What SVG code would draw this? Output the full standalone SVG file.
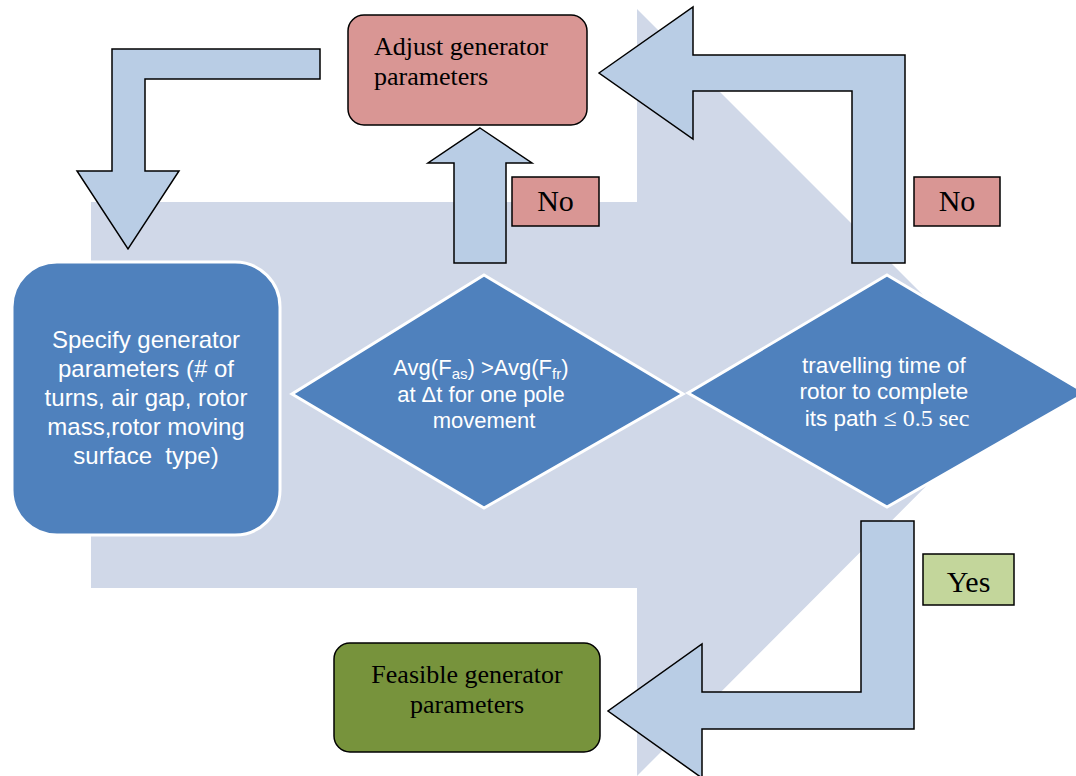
<svg xmlns="http://www.w3.org/2000/svg" width="1076" height="776" viewBox="0 0 1076 776">
<style>
.arrow{fill:#b9cde5;stroke:#000;stroke-width:1.5;stroke-linejoin:miter}
.lbl{stroke:#000;stroke-width:1.5}
.serif{font-family:"Liberation Serif","Times New Roman",serif;fill:#000}
.sans{font-family:"Liberation Sans",Arial,sans-serif;fill:#fff}
.blue{fill:#4f81bd;stroke:#fff;stroke-width:3}
</style>
<rect width="1076" height="776" fill="#fff"/>
<g id="background">
<polygon points="91,202 637,202 637,9 1020,392 637,776 637,588 91,588" fill="#d0d8e8"/>
</g>
<g id="connectors">
<polygon class="arrow" points="320,49 320,79 145,79 145,171 179,171 128,249 77,171 112,171 112,49"/>
<polygon class="arrow" points="480,128 532,163 506,163 506,263 454,263 454,163 428,163"/>
<polygon class="arrow" points="599,73 693,7 693,55 905,55 905,263 852,263 852,91 693,91 693,139"/>
<polygon class="arrow" points="861,521 914,521 914,729 702,729 702,778 608,711 702,644 702,692 861,692"/>
</g>
<g id="specify">
<rect class="blue" x="12" y="262" width="268" height="273" rx="45"/>
<text class="sans" font-size="24" text-anchor="middle" xml:space="preserve"><tspan x="146" y="348">Specify generator</tspan><tspan x="146" y="377">parameters (# of</tspan><tspan x="146" y="406">turns, air gap, rotor</tspan><tspan x="146" y="435">mass,rotor moving</tspan><tspan x="146" y="464">surface  type)</tspan></text>
</g>
<g id="decision1">
<polygon class="blue" points="484,275 683,394 484,508 292,394"/>
<text class="sans" font-size="22" text-anchor="middle">
<tspan x="484" y="375">Avg(F<tspan font-size="15" dy="4">as</tspan><tspan dy="-4">) &gt;Avg(F</tspan><tspan font-size="15" dy="4">fr</tspan><tspan dy="-4">)</tspan></tspan>
<tspan x="484" y="402">at Δt for one pole</tspan>
<tspan x="484" y="428">movement</tspan>
</text>
</g>
<g id="decision2">
<polygon class="blue" points="887,275 1086,393 887,507 688,393"/>
<text class="sans" font-size="22.5" text-anchor="middle">
<tspan x="887" y="373">travelling time of</tspan>
<tspan x="887" y="399">rotor to complete</tspan>
<tspan x="887" y="426">its path <tspan font-family="Liberation Serif, serif" font-size="24">≤ 0.5 sec</tspan></tspan>
</text>
</g>
<g id="adjust">
<rect x="348" y="15" width="239" height="110" rx="16" fill="#d99694" stroke="#000" stroke-width="1.5"/>
<text class="serif" font-size="26"><tspan x="374" y="55">Adjust generator</tspan><tspan x="374" y="85">parameters</tspan></text>
</g>
<g id="feasible">
<rect x="334" y="643" width="266" height="109" rx="16" fill="#77933c" stroke="#000" stroke-width="1.5"/>
<text class="serif" font-size="26" text-anchor="middle"><tspan x="467" y="683">Feasible generator</tspan><tspan x="467" y="713">parameters</tspan></text>
</g>
<g id="no1">
<rect class="lbl" x="512" y="177" width="87" height="49" fill="#d99694"/>
<text class="serif" font-size="30" x="555.5" y="211" text-anchor="middle">No</text>
</g>
<g id="no2">
<rect class="lbl" x="914" y="177" width="86" height="49" fill="#d99694"/>
<text class="serif" font-size="30" x="957" y="211" text-anchor="middle">No</text>
</g>
<g id="yes">
<rect class="lbl" x="923" y="554" width="91" height="51" fill="#c3d69b"/>
<text class="serif" font-size="30" x="968.5" y="592" text-anchor="middle">Yes</text>
</g>
</svg>
